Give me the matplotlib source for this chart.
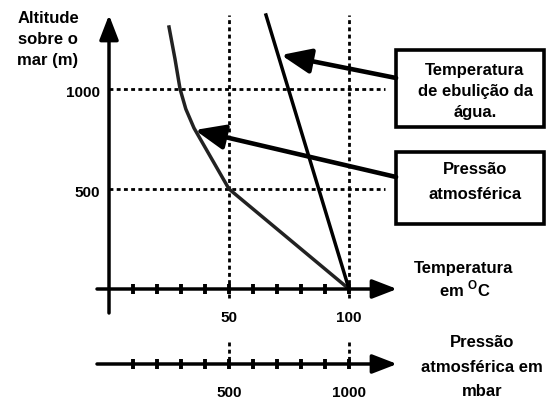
import matplotlib.pyplot as plt
from matplotlib.patches import Rectangle

# altitude (m) vs atmospheric pressure (mbar) and boiling point of water (C)
pressure_mbar = [250, 275, 296, 320, 354, 500, 1000]
pressure_alt = [1310, 1150, 1000, 900, 805, 500, 0]
boiling_temp = [100, 65.4]
boiling_alt = [0, 1370]

alt_ticks = [500, 1000]
temp_ticks = [50, 100]
pressure_ticks = [500, 1000]
minor_ticks = [10, 20, 30, 40, 50, 60, 70, 80, 90, 100, 110]

MBAR_PER_DEG = 10  # 500 mbar drawn at 50 C
PRESS_AXIS_Y = -375

plt.rcParams['font.family'] = ['Liberation Sans', 'DejaVu Sans']
plt.rcParams['font.weight'] = 'bold'
plt.rcParams['mathtext.fontset'] = 'custom'
plt.rcParams['mathtext.rm'] = 'Liberation Sans:bold'

fig = plt.figure(figsize=(5.46, 4.01), dpi=100)
ax = fig.add_axes([0, 0, 1, 1])
ax.set_xlim(-45.42, 182.08)
ax.set_ylim(-560, 1445)
ax.axis('off')

lw = 2.5
dots = (0, (1.4, 1.2))
arrow_kw = dict(arrowstyle='-|>,head_length=1.5,head_width=0.58', lw=lw, color='k',
                mutation_scale=10, shrinkA=0, shrinkB=0)

# axes with arrows
ax.annotate('', xy=(0, 1370), xytext=(0, -120), arrowprops=arrow_kw)
ax.annotate('', xy=(120, 0), xytext=(-5, 0), arrowprops=arrow_kw)
ax.annotate('', xy=(120, PRESS_AXIS_Y), xytext=(-5, PRESS_AXIS_Y), arrowprops=arrow_kw)
for t in minor_ticks:
    ax.plot([t, t], [-24, 24], color='k', lw=2.8, solid_capstyle='butt')
    ax.plot([t, t], [PRESS_AXIS_Y - 24, PRESS_AXIS_Y + 24], color='k', lw=2.8,
            solid_capstyle='butt')

# dotted guides
for a in alt_ticks:
    ax.plot([0, 115], [a, a], color='k', lw=2, linestyle=dots)
    ax.text(-3.75, a - 20, str(a), ha='right', va='center', fontsize=11)
for t in temp_ticks:
    ax.plot([t, t], [-45, 1370], color='k', lw=2, linestyle=dots)
    ax.plot([t, t], [-265, PRESS_AXIS_Y], color='k', lw=2, linestyle=dots)
    ax.text(t, -145, str(t), ha='center', va='center', fontsize=11)
for p in pressure_ticks:
    ax.text(p / MBAR_PER_DEG, -520, str(p), ha='center', va='center', fontsize=11)

# curves
ax.plot([p / MBAR_PER_DEG for p in pressure_mbar], pressure_alt, color='#222222', lw=lw,
        solid_joinstyle='round')
ax.plot(boiling_temp, boiling_alt, color='k', lw=lw)

# axis titles
ax.text(-25.4, 1390, 'Altitude\nsobre o\nmar (m)', ha='center', va='top', fontsize=12,
        linespacing=1.5)
ax.text(147.9, 105, 'Temperatura', ha='center', va='center', fontsize=12)
ax.text(137.5, 0, 'em $^{\\rm O}$C', ha='left', va='center', fontsize=12)
ax.text(155.4, -390, 'Pressão\natmosférica em\nmbar', ha='center', va='center',
        fontsize=12, linespacing=1.8)

# boxes with labels
ax.add_patch(Rectangle((119.6, 810), 61.5, 385, fill=False, lw=2.6, ec='k'))
ax.add_patch(Rectangle((119.6, 325), 61.5, 360, fill=False, lw=2.6, ec='k'))
ax.text(152.5, 990, 'Temperatura\nde ebulição da\nágua.', ha='center', va='center',
        fontsize=12, linespacing=1.5)
ax.text(152.5, 535, 'Pressão\natmosférica', ha='center', va='center', fontsize=12,
        linespacing=1.8)

big_arrow = dict(arrowstyle='-|>,head_length=1.8,head_width=0.75', lw=3.3, color='k',
                 mutation_scale=10, shrinkA=0, shrinkB=0)
ax.annotate('', xy=(71.7, 1170), xytext=(119.6, 1055), arrowprops=big_arrow)
ax.annotate('', xy=(35.8, 795), xytext=(119.6, 560), arrowprops=big_arrow)

plt.savefig('out.png', dpi=100)
